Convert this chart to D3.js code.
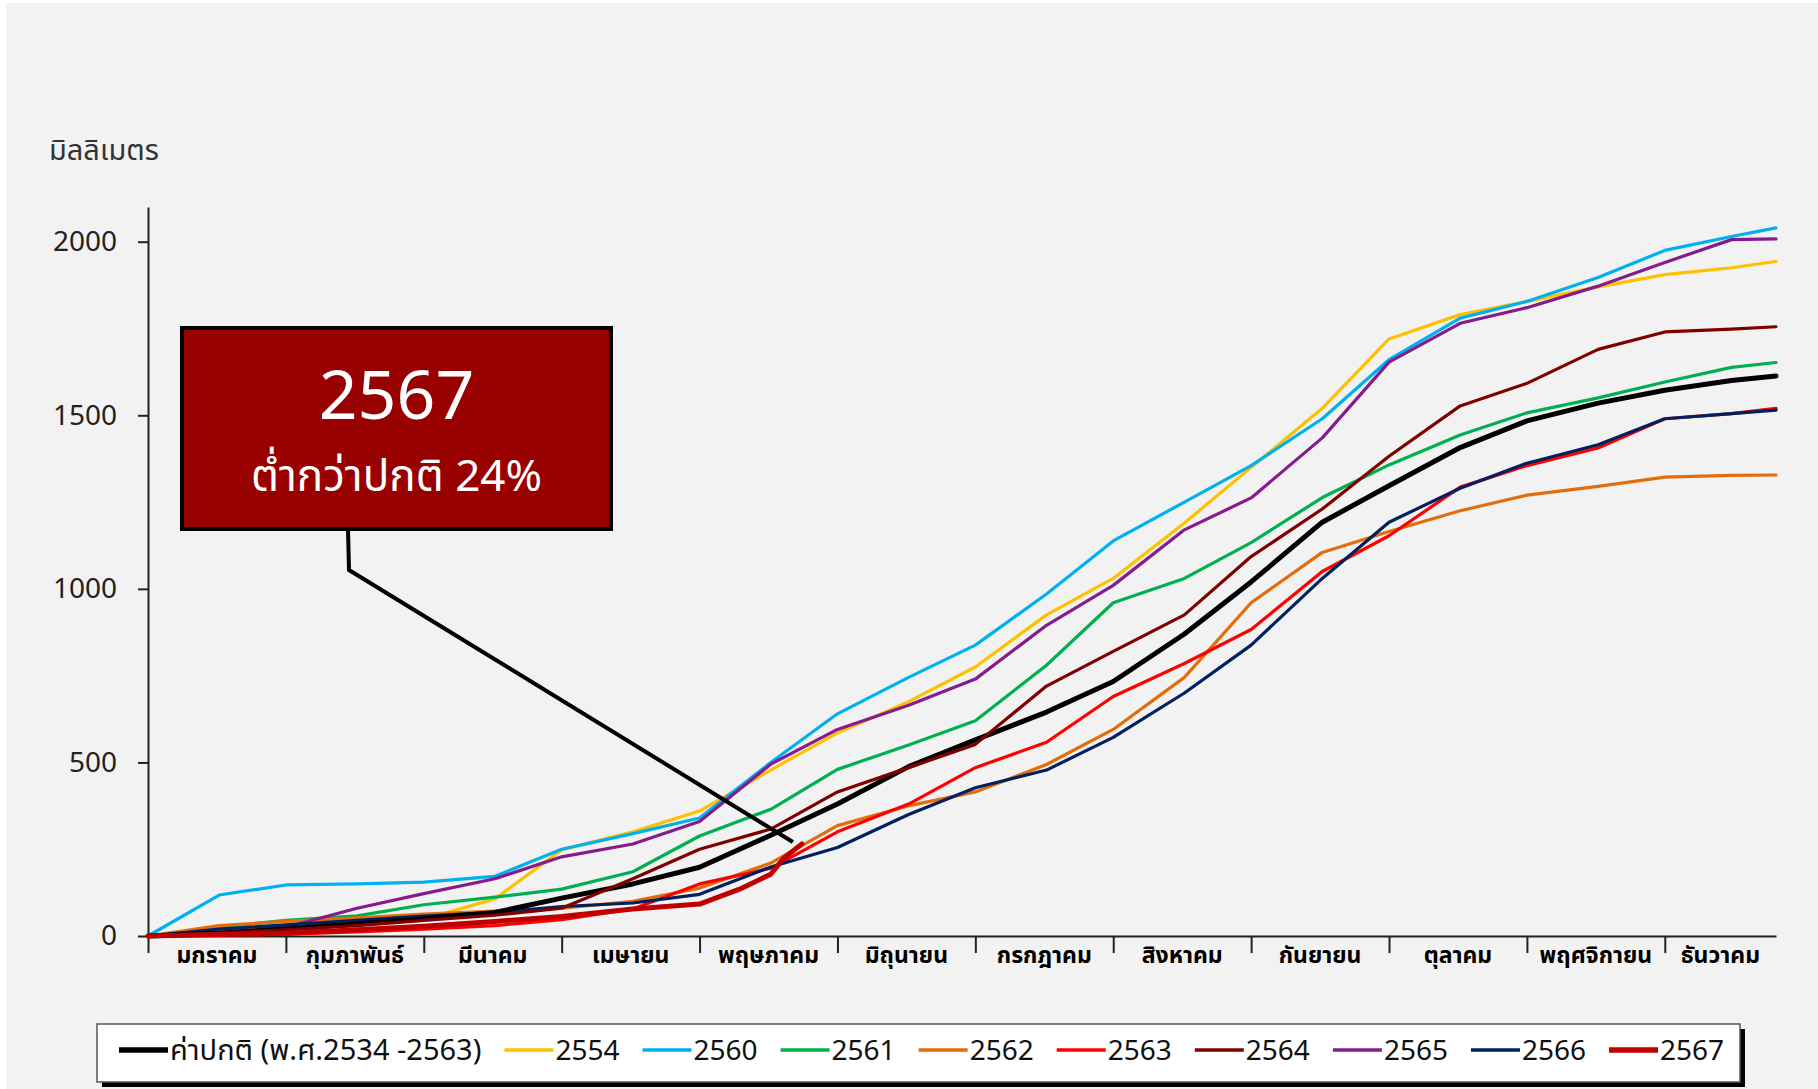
<!DOCTYPE html>
<html>
<head>
<meta charset="utf-8">
<script src="https://cdn.jsdelivr.net/npm/d3@7"></script>
<style>
  html, body { margin: 0; padding: 0; background: #f2f2f2; }
  svg { display: block; }
  text { font-family: "Noto Sans Thai", "Noto Sans", "DejaVu Sans", sans-serif; }
</style>
</head>
<body>
<div id="vis"></div>
<script>
var days = [0, 16, 31, 47, 62, 78, 93, 109, 124, 140, 155, 171, 186, 202, 217, 233, 248, 264, 279, 295, 310, 326, 341, 356, 366];

var normal = [0, 8, 20, 35, 50, 68, 109, 150, 198, 290, 380, 488, 565, 645, 733, 870, 1020, 1192, 1297, 1407, 1484, 1535, 1572, 1600, 1613];
var y2554 = [0, 12, 28, 38, 48, 107, 248, 300, 360, 478, 585, 675, 775, 925, 1030, 1190, 1350, 1520, 1720, 1790, 1828, 1870, 1905, 1925, 1943];
var y2560 = [0, 118, 147, 150, 155, 172, 250, 295, 340, 500, 640, 745, 838, 985, 1138, 1250, 1355, 1490, 1660, 1780, 1828, 1897, 1975, 2015, 2040];
var y2561 = [0, 25, 45, 58, 90, 112, 135, 185, 288, 365, 480, 550, 620, 780, 960, 1030, 1133, 1263, 1357, 1443, 1507, 1550, 1596, 1638, 1652];
var y2562 = [0, 30, 42, 52, 63, 72, 80, 100, 138, 210, 318, 375, 415, 494, 595, 745, 960, 1105, 1165, 1225, 1270, 1295, 1322, 1327, 1328];
var y2563 = [0, 3, 5, 12, 20, 30, 47, 78, 150, 195, 300, 380, 485, 558, 690, 785, 883, 1050, 1153, 1293, 1355, 1406, 1490, 1505, 1520];
var y2564 = [0, 8, 18, 30, 45, 60, 80, 165, 250, 308, 415, 485, 552, 720, 820, 925, 1093, 1230, 1382, 1527, 1592, 1690, 1740, 1748, 1755];
var y2565 = [0, 10, 25, 80, 122, 165, 228, 265, 330, 495, 595, 665, 740, 895, 1010, 1170, 1262, 1435, 1653, 1765, 1810, 1872, 1940, 2006, 2008];
var y2566 = [0, 20, 32, 45, 57, 68, 85, 95, 120, 199, 255, 350, 427, 478, 572, 700, 838, 1030, 1192, 1290, 1362, 1415, 1490, 1505, 1515];

var days2567 = [0, 16, 31, 47, 62, 78, 93, 109, 124, 133, 140, 143, 147];
var y2567 = [0, 4, 8, 18, 28, 42, 56, 78, 92, 135, 178, 225, 265];

var legendNames = ["ค่าปกติ (พ.ศ.2534 -2563)", "2554", "2560", "2561", "2562", "2563", "2564", "2565", "2566", "2567"];
var months = ["มกราคม", "กุมภาพันธ์", "มีนาคม", "เมษายน", "พฤษภาคม", "มิถุนายน",
  "กรกฎาคม", "สิงหาคม", "กันยายน", "ตุลาคม", "พฤศจิกายน", "ธันวาคม"];
var rainTicks = [0, 500, 1000, 1500, 2000];
var yearLength = 366;
var monthStep = 31;

var colors = ["#000000", "#FFC000", "#00B0F0", "#00B050", "#E46C0A", "#FF0000", "#800000", "#861C8C", "#002060", "#C00000"];
var widths = [5, 3.2, 3.2, 3.2, 3.2, 3.2, 3.2, 3.2, 3.2, 5];

var series = [normal, y2554, y2560, y2561, y2562, y2563, y2564, y2565, y2566, y2567].map(function(vals, i) {
  var xs = (i === 9) ? days2567 : days;
  return {
    name: legendNames[i],
    color: colors[i],
    width: widths[i],
    points: vals.map(function(v, j) { return [xs[j], v]; })
  };
});

var width = 1818, height = 1089;
var svg = d3.select("#vis").append("svg")
  .attr("width", width)
  .attr("height", height);

svg.append("rect").attr("width", width).attr("height", height).attr("fill", "#f2f2f2");
svg.append("rect").attr("width", 6).attr("height", height).attr("fill", "#ffffff");
svg.append("rect").attr("width", width).attr("height", 3).attr("fill", "#ffffff");

var scales = {
  day: d3.scaleLinear().domain([0, yearLength]).range([148, 1776]),
  rain: d3.scaleLinear().domain([0, 2100]).range([936, 207])
};

// y axis
var y_axis = d3.axisLeft(scales.rain)
  .tickValues(rainTicks)
  .tickSizeInner(10)
  .tickSizeOuter(0)
  .tickPadding(21)
  .tickFormat(d3.format("d"));
var yg = svg.append("g")
  .attr("class", "y_axis")
  .attr("transform", "translate(" + scales.day(0) + ",0)")
  .call(y_axis);
yg.selectAll("path, line").attr("stroke", "#222").attr("stroke-width", 2);
yg.selectAll("text")
  .attr("font-size", 28)
  .attr("fill", "#222")
  .style("font-family", "'Noto Sans', sans-serif");

svg.append("text")
  .attr("x", 49)
  .attr("y", 160)
  .attr("font-size", 29)
  .attr("fill", "#333")
  .text("มิลลิเมตร");

// x axis: ticks every 31 days, month names centred between them
var monthStarts = d3.range(0, yearLength, monthStep);
var x_axis = d3.axisBottom(scales.day)
  .tickValues(monthStarts)
  .tickSizeInner(17)
  .tickSizeOuter(0)
  .tickFormat("");
var xg = svg.append("g")
  .attr("class", "x_axis")
  .attr("transform", "translate(0," + scales.rain(0) + ")")
  .call(x_axis);
xg.selectAll("path, line").attr("stroke", "#222").attr("stroke-width", 2);

svg.append("g")
  .selectAll("text")
  .data(months)
  .enter()
  .append("text")
  .attr("x", function(d, i) {
    var a = monthStarts[i], b = Math.min(a + monthStep, yearLength);
    return scales.day((a + b) / 2);
  })
  .attr("y", scales.rain(0) + 27)
  .attr("text-anchor", "middle")
  .attr("font-size", 23)
  .attr("font-weight", "bold")
  .attr("fill", "#000")
  .text(function(d) { return d; });

// lines
var line = d3.line()
  .x(function(d) { return scales.day(d[0]); })
  .y(function(d) { return scales.rain(d[1]); });

var order = [1, 2, 3, 4, 5, 7, 8, 0, 6, 9];
svg.append("g")
  .selectAll("path")
  .data(order.map(function(i) { return series[i]; }))
  .enter()
  .append("path")
  .attr("d", function(d) { return line(d.points); })
  .attr("fill", "none")
  .attr("stroke", function(d) { return d.color; })
  .attr("stroke-width", function(d) { return d.width; })
  .attr("stroke-linejoin", "round")
  .attr("stroke-linecap", "round");

// callout for 2567
var last = series[9].points[series[9].points.length - 1];
var box = { x: 182, y: 328, w: 429, h: 201 };
svg.append("polyline")
  .attr("points", [
    [348, box.y + box.h],
    [349, 570],
    [scales.day(last[0]) - 9, scales.rain(last[1]) - 2]
  ].join(" "))
  .attr("fill", "none")
  .attr("stroke", "#000")
  .attr("stroke-width", 4);

svg.append("rect")
  .attr("x", box.x)
  .attr("y", box.y)
  .attr("width", box.w)
  .attr("height", box.h)
  .attr("fill", "#990000")
  .attr("stroke", "#000")
  .attr("stroke-width", 4);

svg.append("text")
  .attr("x", box.x + box.w / 2)
  .attr("y", 419)
  .attr("text-anchor", "middle")
  .attr("font-size", 68)
  .attr("fill", "#fff")
  .text(legendNames[9]);

svg.append("text")
  .attr("x", box.x + box.w / 2)
  .attr("y", 491)
  .attr("text-anchor", "middle")
  .attr("font-size", 44)
  .attr("fill", "#fff")
  .text("ต่ำกว่าปกติ 24%");

// legend
var legend = svg.append("g");
legend.append("rect")
  .attr("x", 102).attr("y", 1029)
  .attr("width", 1643).attr("height", 58)
  .attr("fill", "#000");
legend.append("rect")
  .attr("x", 97).attr("y", 1024)
  .attr("width", 1643).attr("height", 58)
  .attr("fill", "#fff")
  .attr("stroke", "#555")
  .attr("stroke-width", 1.5);

var lx = 119, ly = 1050;
series.forEach(function(s, i) {
  legend.append("line")
    .attr("x1", lx).attr("x2", lx + 49)
    .attr("y1", ly).attr("y2", ly)
    .attr("stroke", s.color)
    .attr("stroke-width", s.width + 0.5);
  var t = legend.append("text")
    .attr("x", lx + 51)
    .attr("y", ly)
    .attr("dy", "0.35em")
    .attr("font-size", i === 0 ? 29 : 28)
    .attr("fill", "#111")
    .text(s.name);
  lx = lx + 51 + t.node().getComputedTextLength() + 23;
});
</script>
</body>
</html>
